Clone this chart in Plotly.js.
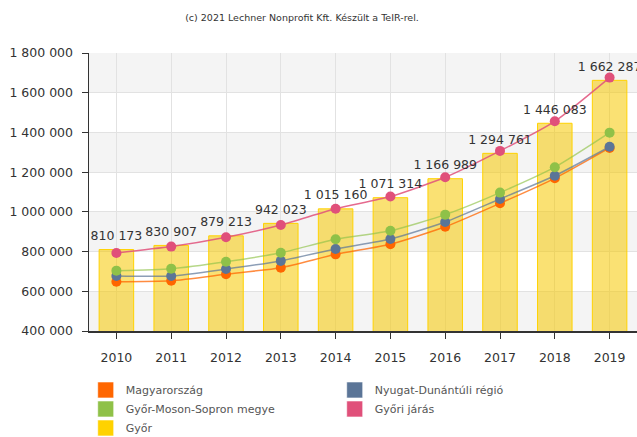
<!DOCTYPE html>
<html>
<head>
<meta charset="utf-8">
<script src="https://cdn.plot.ly/plotly-3.0.1.min.js"></script>
<style>html,body{margin:0;padding:0;background:#fff;}#chart{width:637px;height:437px;}</style>
</head>
<body>
<div id="chart"></div>
<script>
const years = ['2010','2011','2012','2013','2014','2015','2016','2017','2018','2019'];
const gyor = [810173, 830907, 879213, 942023, 1015160, 1071314, 1166989, 1294761, 1446083, 1662287];
const gyoriJaras = [793000, 825000, 872000, 934000, 1016000, 1077000, 1174000, 1307000, 1456000, 1676000];
const gyms = [704000, 714000, 749000, 794000, 862000, 905000, 986000, 1097000, 1225000, 1399000];
const nyugatDunantul = [677000, 677000, 712000, 753000, 813000, 863000, 949000, 1065000, 1182000, 1328000];
const magyarorszag = [648000, 653000, 686000, 719000, 786000, 837000, 925000, 1043000, 1169000, 1322000];
const yTicks = [400000, 600000, 800000, 1000000, 1200000, 1400000, 1600000, 1800000];
const bandRanges = [[400000,600000],[800000,1000000],[1200000,1400000],[1600000,1800000]];

const names = {
  hu: 'Magyarország', nyd: 'Nyugat-Dunántúli régió', gyms: 'Győr-Moson-Sopron megye',
  jaras: 'Győri járás', gyor: 'Győr'
};
const colors = {hu:'#FF6600', nyd:'#5B7597', gyms:'#8FC148', jaras:'#E0507A', gyor:'#FFD200'};
const lineColors = {hu:'rgba(255,102,0,0.75)', nyd:'rgba(91,117,151,0.7)', gyms:'rgba(143,193,72,0.65)', jaras:'rgba(224,80,122,0.85)'};

function lineTrace(y, key){
  return {x: years, y: y, type:'scatter', mode:'lines+markers', name: names[key], showlegend:false,
    line:{color: lineColors[key], width:1.5, shape:'spline', smoothing:0.6},
    marker:{color: colors[key], size:10}, cliponaxis:false};
}
function legendTrace(key){
  return {x:[null], y:[null], type:'scatter', mode:'markers', name:names[key], showlegend:true,
    marker:{symbol:'square', size:16, color:colors[key], line:{color:'rgba(255,255,255,0.6)', width:1}}};
}

const data = [
  {x: years, y: gyor, type:'bar', name:names.gyor, showlegend:false, width:0.63,
    marker:{color:'rgba(245,200,0,0.55)', line:{color:'#FFD200', width:1}}},
  lineTrace(magyarorszag,'hu'),
  lineTrace(nyugatDunantul,'nyd'),
  lineTrace(gyms,'gyms'),
  lineTrace(gyoriJaras,'jaras'),
  {x: years, y: gyor, type:'scatter', mode:'markers+text', showlegend:false, hoverinfo:'skip',
    marker:{size:9, opacity:0}, texttemplate:'%{y:,d}',
    textposition:'top center', textfont:{family:'DejaVu Sans, sans-serif', size:12.5, color:'#333'}, cliponaxis:false},
  legendTrace('hu'), legendTrace('nyd'), legendTrace('gyms'), legendTrace('jaras'), legendTrace('gyor')
];

const shapes = bandRanges.map(r => ({type:'rect', xref:'paper', yref:'y', x0:0, x1:1, y0:r[0], y1:r[1],
  fillcolor:'#F4F4F4', line:{width:0}, layer:'below'}));

const layout = {
  width:637, height:437,
  margin:{l:89, r:0, t:53, b:106, autoexpand:false},
  paper_bgcolor:'#fff', plot_bgcolor:'rgba(0,0,0,0)',
  separators:', ',
  font:{family:'DejaVu Sans, sans-serif', size:12, color:'#333'},
  title:{text:'(c) 2021 Lechner Nonprofit Kft. Készült a TeIR-rel.', x:302/637, xanchor:'center', xref:'container',
    y:1-18/437, yanchor:'middle', yref:'container', font:{size:9.5, color:'#333'}},
  shapes: shapes,
  xaxis:{type:'category', range:[-0.5, 9.5], showgrid:true, gridcolor:'#E2E2E2', gridwidth:1,
    showline:true, linecolor:'#333', linewidth:1.5, ticks:'outside', ticklen:6, tickcolor:'#333',
    tickfont:{size:12.5, color:'#333'}, ticklabelstandoff:8, fixedrange:true},
  yaxis:{range:[400000, 1800000], tickvals:yTicks, tickformat:',d', showgrid:true, gridcolor:'#E2E2E2', gridwidth:1,
    showline:true, linecolor:'#333', linewidth:1.5, ticks:'outside', ticklen:6, tickcolor:'#333',
    tickfont:{size:12.5, color:'#333'}, ticklabelstandoff:6, zeroline:false, fixedrange:true},
  legend:{orientation:'h', x:-0.006, xanchor:'left', y:-0.16, yanchor:'top', entrywidth:204, entrywidthmode:'pixels',
    itemwidth:30, font:{size:11, color:'#555'}, traceorder:'normal', bgcolor:'rgba(0,0,0,0)'},
  bargap:0.37,
  showlegend:true
};
Plotly.newPlot('chart', data, layout, {displayModeBar:false, staticPlot:true});
</script>
</body>
</html>
